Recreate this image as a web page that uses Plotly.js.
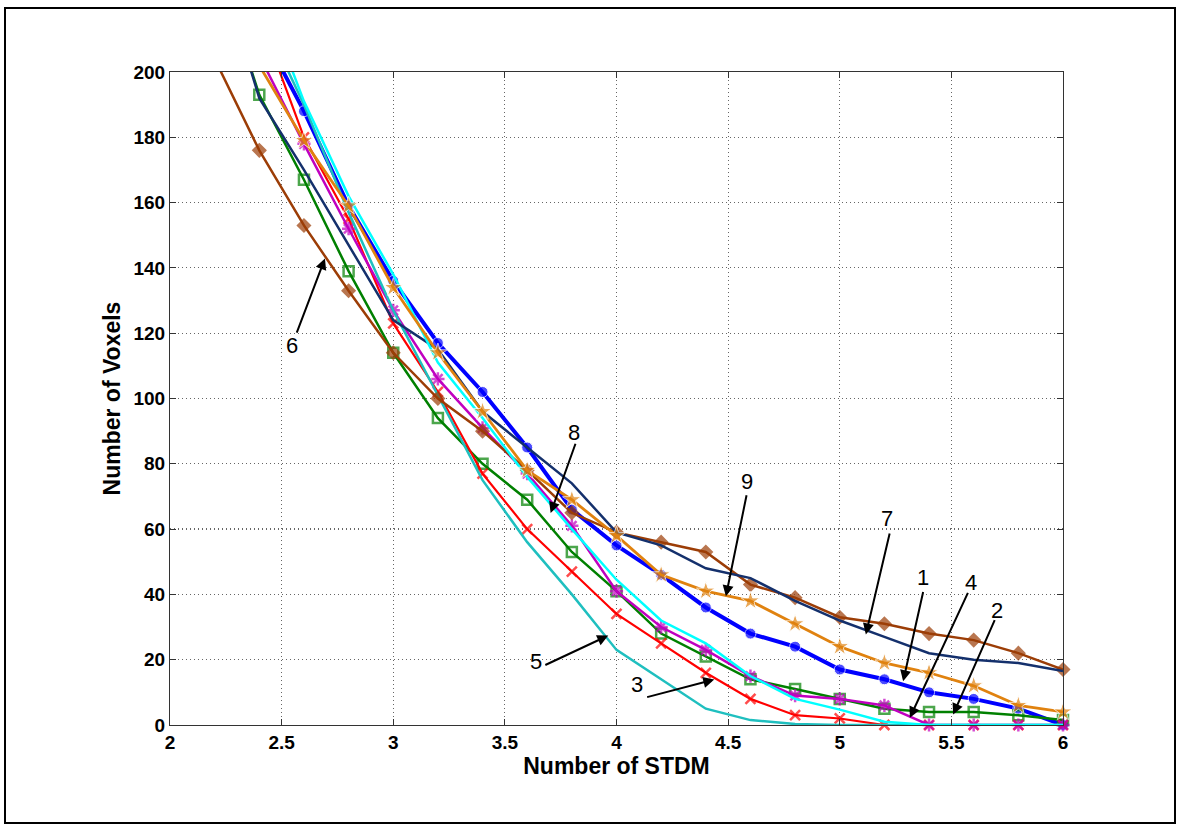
<!DOCTYPE html>
<html>
<head>
<meta charset="utf-8">
<script src="https://cdn.plot.ly/plotly-3.0.1.min.js"></script>
<style>
  html, body { margin:0; padding:0; background:#fff; }
  #wrap { position:relative; width:1180px; height:829px; }
  #chart { position:absolute; left:0; top:0; width:1180px; height:829px; }
  #frame { position:absolute; left:4px; top:7px; width:1168px; height:813px; border:2px solid #000; pointer-events:none; }
</style>
</head>
<body>
<div id="wrap">
  <div id="chart"></div>
  <div id="frame"></div>
</div>
<script>
// x positions (Number of STDM)
const stdm = [2.2, 2.4, 2.6, 2.8, 3.0, 3.2, 3.4, 3.6, 3.8, 4.0, 4.2, 4.4, 4.6, 4.8, 5.0, 5.2, 5.4, 5.6, 5.8, 6.0];

// Number of voxels per series (null = off chart)
const s1_blue    = [null, 214, 188, 159, 136, 117, 102, 85, 66, 55, 46, 36, 28, 24, 17, 14, 10, 8, 5, 0];
const s2_green   = [235, 193, 167, 139, 114, 94, 80, 69, 53, 41, 28, 21, 14, 11, 8, 5, 4, 4, 3, 1.5];
const s3_red     = [null, 217, 180, 155, 123, 102, 77, 60, 47, 34, 25, 16, 8, 3, 2, 0, 0, 0, 0, 0];
const s4_magenta = [null, 205, 178, 152, 127, 106, 91, 77, 61, 41, 30, 23, 15, 9, 8, 6, 0, 0, 0, 0];
const s5_teal    = [null, 219, 190, 157, 127, 101, 75, 56, 40, 23, 14, 5, 1.5, 0.3, 0, 0, 0, 0, 0, 0];
const s6_brown   = [204, 176, 153, 133, 114, 100, 90, 78, 65, 59, 56, 53, 43, 39, 33, 31, 28, 26, 22, 17];
const s7_navy    = [237, 192, 170, 147, 124, 115, 96, 85, 74, 59, 55, 48, 45, 38, 32, 27, 22, 20, 19, 16.5];
const s8_cyan    = [null, 227, 191, 162, 138, 111, 94, 76, 60, 44.5, 32, 25, 15, 8, 4.7, 1, 0, 0, 0, 0];
const s9_orange  = [null, 202, 179, 159, 134, 114, 96, 78, 69, 58, 46, 41, 38, 31, 24, 19, 16, 12, 6, 4];

// Curve labels: label text, text position, arrow tail, arrow head
const labelText = ['6', '8', '9', '5', '3', '7', '1', '4', '2'];
const labelX    = [2.548, 3.811, 4.586, 3.638, 4.094, 5.213, 5.374, 5.586, 5.706];
const labelY    = [116.2, 89.5, 74.6, 19.5, 12.4, 63.4, 45.3, 43.5, 35.1];
const tailX     = [2.567, 3.817, 4.583, 3.679, 4.135, 5.224, 5.374, 5.575, 5.695];
const tailY     = [120.0, 86.3, 70.5, 18.3, 8.5, 58.8, 40.9, 40.6, 32.3];
const headX     = [2.694, 3.705, 4.490, 3.963, 4.438, 5.117, 5.284, 5.314, 5.508];
const headY     = [142.9, 64.9, 39.4, 27.4, 13.9, 27.7, 13.4, 2.2, 3.2];

const yMax = 200;

function tr(y, color, width, marker) {
  const t = { x: stdm, y: y, type: 'scatter', mode: marker ? 'lines+markers' : 'lines',
              line: { color: color, width: width }, showlegend: false, connectgaps: false, cliponaxis: false };
  if (marker) {
    // hide markers that fall above the visible range (lines are clipped anyway)
    const s = marker.size;
    marker.size = y.map(v => (v === null || v > yMax) ? 0 : s);
    t.marker = marker;
  }
  return t;
}

const traces = [
  tr(s1_blue, '#0000ff', 4, { symbol: 'circle', size: 11, color: '#0000ff' }),
  tr(s2_green, '#008000', 2.5, { symbol: 'square-open', size: 10, color: '#008000', line: { color: '#008000', width: 2.5 } }),
  tr(s3_red, '#ff0000', 2.2, { symbol: 'x-thin-open', size: 10, color: '#ff0000', line: { color: '#ff0000', width: 2.5 } }),
  tr(s4_magenta, '#c000c0', 2.5, { symbol: 'asterisk-open', size: 11, color: '#c000c0', line: { color: '#c000c0', width: 2.5 } }),
  tr(s5_teal, '#1fbfbf', 2.5, null),
  tr(s6_brown, '#9c3d06', 2.5, { symbol: 'diamond', size: 10, color: '#9c3d06', line: { color: '#9c3d06', width: 1.5 } }),
  tr(s7_navy, '#14306c', 2.5, null),
  tr(s8_cyan, '#00ffff', 2.5, null),
  tr(s9_orange, '#e0820f', 2.8, { symbol: 'star', size: 14, color: '#e0820f' })
];

const annotations = [];
for (let i = 0; i < labelText.length; i++) {
  annotations.push({
    x: headX[i], y: headY[i], xref: 'x', yref: 'y',
    ax: tailX[i], ay: tailY[i], axref: 'x', ayref: 'y',
    text: '', showarrow: true, arrowhead: 2, arrowsize: 1.1, arrowwidth: 2,
    arrowcolor: '#000', standoff: 0, startstandoff: 0, borderpad: 0
  });
  annotations.push({
    x: labelX[i], y: labelY[i], xref: 'x', yref: 'y',
    text: labelText[i], showarrow: false,
    font: { family: 'Liberation Sans, Arial, sans-serif', size: 22, color: '#000' }
  });
}

const axisFont = { family: 'Liberation Sans, Arial, sans-serif', size: 19, color: '#000', weight: 'bold' };
const titleFont = { family: 'Liberation Sans, Arial, sans-serif', size: 23, color: '#000', weight: 'bold' };

const layout = {
  width: 1180, height: 829,
  margin: { l: 170, r: 117, t: 72, b: 104, pad: 0 },
  paper_bgcolor: '#fff', plot_bgcolor: '#fff',
  showlegend: false,
  xaxis: {
    range: [2, 6], tick0: 2, dtick: 0.5, ticks: 'inside', ticklen: 6, tickcolor: '#333',
    showline: true, linecolor: '#333', linewidth: 1, mirror: 'ticks',
    showgrid: true, gridcolor: '#666', griddash: '1px,3px', gridwidth: 1.2, zeroline: false,
    tickfont: axisFont,
    title: { text: 'Number of STDM', font: titleFont, standoff: 4 }
  },
  yaxis: {
    range: [0, 200], tick0: 0, dtick: 20, ticks: 'inside', ticklen: 6, tickcolor: '#333',
    showline: true, linecolor: '#333', linewidth: 1, mirror: 'ticks',
    showgrid: true, gridcolor: '#666', griddash: '1px,3px', gridwidth: 1.2, zeroline: false,
    tickfont: axisFont,
    title: { text: 'Number of Voxels', font: titleFont, standoff: 6 }
  },
  annotations: annotations
};

Plotly.newPlot('chart', traces, layout, { displayModeBar: false, staticPlot: true });
</script>
</body>
</html>
